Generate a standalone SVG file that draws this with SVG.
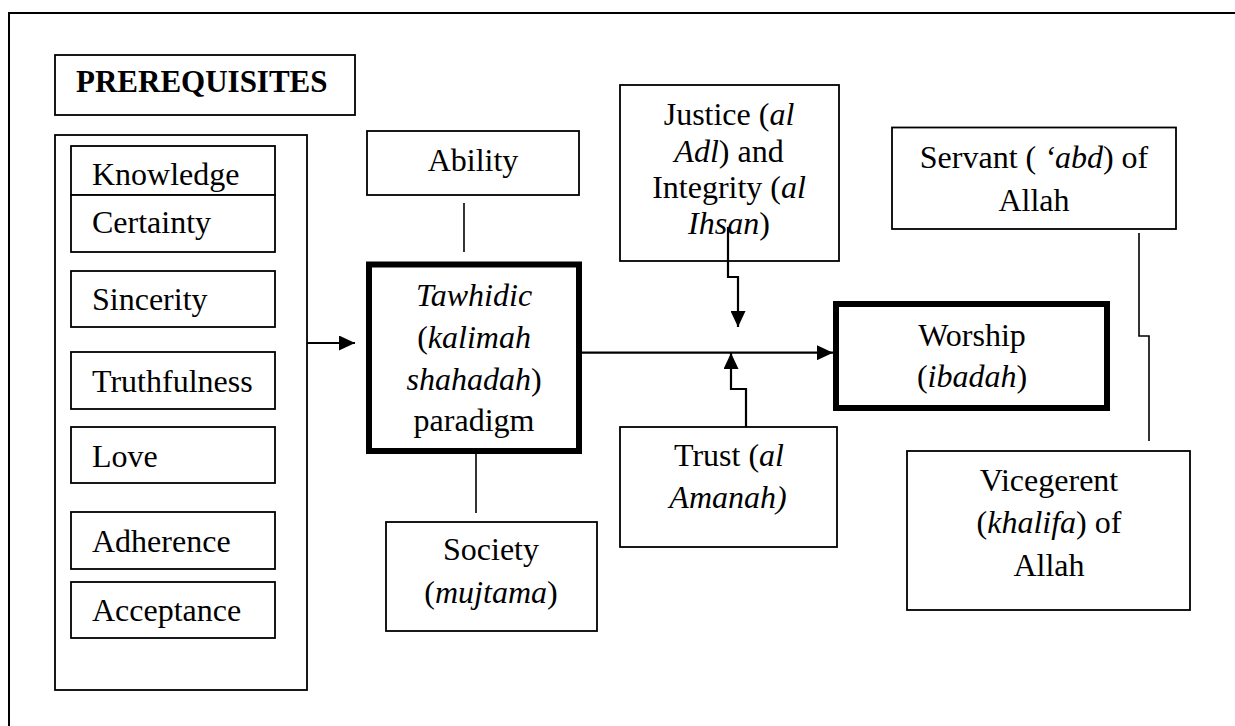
<svg xmlns="http://www.w3.org/2000/svg" width="1235" height="726" viewBox="0 0 1235 726" font-family="'Liberation Serif', 'DejaVu Serif', serif">
<style>
text{font-family:'Liberation Serif','DejaVu Serif',serif;font-size:32px;fill:#000}
.c{text-anchor:middle}
.i{font-style:italic}
.b{font-weight:bold;font-size:31px}
.box{fill:#fff;stroke:#000;stroke-width:1.8}
.thick{fill:#fff;stroke:#000;stroke-width:6}
.ln{fill:none;stroke:#000;stroke-width:1.6}
.ar{fill:none;stroke:#000;stroke-width:2.2}
</style>
<defs>
<marker id="ah" markerUnits="userSpaceOnUse" markerWidth="16" markerHeight="15" refX="16" refY="7.5" orient="auto">
<path d="M0,0 L16,7.5 L0,15 Z" fill="#000"/>
</marker>
</defs>
<rect width="1235" height="726" fill="#fff"/>
<path d="M9,726 V13 H1235" fill="none" stroke="#000" stroke-width="2"/>

<g id="prerequisites-title">
<rect class="box" x="55" y="55" width="300" height="60"/>
<text class="b" x="76" y="92">PREREQUISITES</text>
</g>
<g id="prerequisites">
<rect class="box" x="55" y="135" width="252" height="555"/>
<g id="knowledge"><rect class="box" x="71" y="146" width="204" height="49"/><text x="92" y="185">Knowledge</text></g>
<g id="certainty"><rect class="box" x="71" y="195" width="204" height="57"/><text x="92" y="233">Certainty</text></g>
<g id="sincerity"><rect class="box" x="71" y="271" width="204" height="56"/><text x="92" y="310">Sincerity</text></g>
<g id="truthfulness"><rect class="box" x="71" y="352" width="204" height="57"/><text x="92" y="392">Truthfulness</text></g>
<g id="love"><rect class="box" x="71" y="427" width="204" height="56"/><text x="92" y="467">Love</text></g>
<g id="adherence"><rect class="box" x="71" y="512" width="204" height="57"/><text x="92" y="552">Adherence</text></g>
<g id="acceptance"><rect class="box" x="71" y="582" width="204" height="56"/><text x="92" y="621">Acceptance</text></g>
</g>

<g id="ability">
<rect class="box" x="367" y="131" width="212" height="64"/>
<text class="c" x="473" y="171">Ability</text>
</g>

<g id="tawhidic">
<rect class="thick" x="369" y="264.5" width="210" height="186.5"/>
<text class="c" x="474" y="306"><tspan class="i">Tawhidic</tspan></text>
<text class="c" x="474" y="348">(<tspan class="i">kalimah</tspan></text>
<text class="c" x="474" y="390"><tspan class="i">shahadah</tspan>)</text>
<text class="c" x="474" y="431">paradigm</text>
</g>

<g id="society">
<rect class="box" x="386" y="522" width="211" height="109"/>
<text class="c" x="491" y="560">Society</text>
<text class="c" x="491" y="603">(<tspan class="i">mujtama</tspan>)</text>
</g>

<g id="justice">
<rect class="box" x="620" y="85" width="219" height="176"/>
<text class="c" x="729" y="125">Justice (<tspan class="i">al</tspan></text>
<text class="c" x="729" y="162"><tspan class="i">Adl</tspan>) and</text>
<text class="c" x="729" y="198">Integrity (<tspan class="i">al</tspan></text>
<text class="c" x="729" y="234"><tspan class="i">Ihsan</tspan>)</text>
</g>

<g id="trust">
<rect class="box" x="620" y="427" width="217" height="120"/>
<text class="c" x="729" y="466">Trust (<tspan class="i">al</tspan></text>
<text class="c" x="728" y="508"><tspan class="i">Amanah)</tspan></text>
</g>

<g id="worship">
<rect class="thick" x="836" y="304" width="271" height="104"/>
<text class="c" x="972" y="346">Worship</text>
<text class="c" x="972" y="387">(<tspan class="i">ibadah</tspan>)</text>
</g>

<g id="servant">
<rect class="box" x="892" y="127.5" width="284" height="101.5"/>
<text class="c" x="1034" y="167.5">Servant ( <tspan class="i">‘abd</tspan>) of</text>
<text class="c" x="1034" y="211">Allah</text>
</g>

<g id="vicegerent">
<rect class="box" x="907" y="451" width="283" height="159"/>
<text class="c" x="1049" y="491">Vicegerent</text>
<text class="c" x="1049" y="533">(<tspan class="i">khalifa</tspan>) of</text>
<text class="c" x="1049" y="576">Allah</text>
</g>

<g id="connectors">
<path class="ar" d="M307,343 H355" marker-end="url(#ah)"/>
<path class="ar" d="M582,352.7 H833" marker-end="url(#ah)"/>
<path class="ln" d="M464,203 V252"/>
<path class="ln" d="M476,454 V513"/>
<path class="ar" d="M728,227 V277 H738 V327" marker-end="url(#ah)"/>
<path class="ar" d="M746,427 V389 H731 V353" marker-end="url(#ah)"/>
<path class="ln" d="M1139,233 V336 H1149 V441"/>
</g>
</svg>
